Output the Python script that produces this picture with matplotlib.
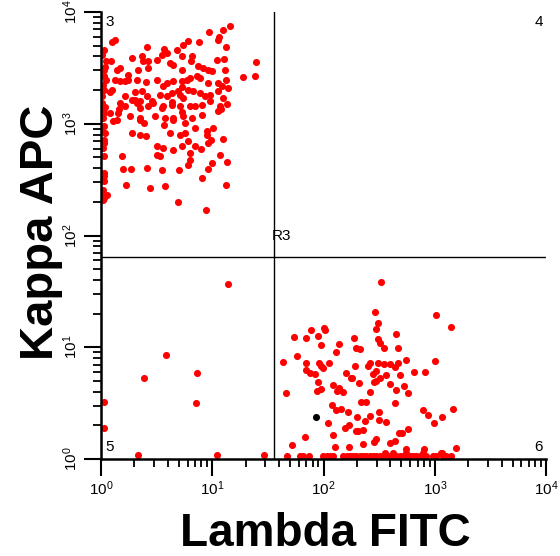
import numpy as np
import matplotlib
matplotlib.use("Agg")
import matplotlib.pyplot as plt
from matplotlib.ticker import LogLocator, LogFormatterSciNotation, NullFormatter

plt.rcParams['font.family'] = ['Liberation Sans', 'DejaVu Sans']
plt.rcParams['mathtext.default'] = 'regular'

# event values in decades (log10 of channel value)
# quadrant 3: kappa positive, lambda negative
q3_events = [
    (1.159, 3.878), (0.973, 3.818), (1.063, 3.776), (1.054, 3.746), (1.099, 3.842),
    (0.126, 3.746), (0.096, 3.728), (0.027, 3.657), (0.410, 3.687), (0.569, 3.672),
    (0.734, 3.707), (0.784, 3.737), (0.880, 3.728), (1.120, 3.687), (1.392, 3.552),
    (1.272, 3.418), (1.383, 3.424), (0.045, 3.558), (0.087, 3.558), (0.027, 3.484),
    (0.171, 3.499), (0.147, 3.484), (0.275, 3.588), (0.365, 3.603), (0.380, 3.558),
    (0.419, 3.558), (0.500, 3.573), (0.545, 3.618), (0.590, 3.633), (0.620, 3.543),
    (0.650, 3.528), (0.725, 3.603), (0.725, 3.484), (0.814, 3.609), (0.805, 3.558),
    (0.874, 3.513), (0.919, 3.499), (0.964, 3.484), (0.994, 3.469), (1.045, 3.567),
    (1.105, 3.579), (1.114, 3.478), (0.045, 3.394), (0.126, 3.394), (0.171, 3.379),
    (0.216, 3.379), (0.246, 3.394), (0.320, 3.394), (0.404, 3.370), (0.500, 3.394),
    (0.560, 3.334), (0.590, 3.364), (0.650, 3.379), (0.725, 3.379), (0.769, 3.394),
    (0.799, 3.409), (0.859, 3.424), (0.889, 3.409), (0.964, 3.364), (1.054, 3.364),
    (1.084, 3.334), (1.123, 3.394), (0.027, 3.304), (0.096, 3.304), (0.216, 3.245),
    (0.275, 3.215), (0.305, 3.215), (0.365, 3.290), (0.410, 3.245), (0.455, 3.200),
    (0.530, 3.260), (0.590, 3.245), (0.635, 3.275), (0.695, 3.290), (0.740, 3.230),
    (0.784, 3.304), (0.829, 3.290), (0.889, 3.275), (0.934, 3.245), (0.979, 3.260),
    (1.054, 3.290), (1.099, 3.230), (1.144, 3.319), (0.006, 3.185), (0.171, 3.185),
    (0.216, 3.155), (0.320, 3.185), (0.350, 3.140), (0.425, 3.155), (0.470, 3.185),
    (0.560, 3.155), (0.635, 3.170), (0.710, 3.155), (0.799, 3.155), (0.844, 3.155),
    (0.904, 3.170), (0.979, 3.200), (1.069, 3.155), (1.129, 3.179), (0.027, 3.096),
    (0.081, 3.096), (0.165, 3.131), (0.260, 3.066), (0.350, 3.051), (0.485, 3.066),
    (0.575, 3.051), (0.650, 3.051), (0.740, 3.066), (0.814, 3.051), (0.904, 3.081),
    (1.054, 3.110), (1.075, 3.131), (0.111, 3.021), (0.141, 3.030), (0.350, 3.030),
    (0.386, 3.006), (0.566, 2.991), (0.650, 3.036), (0.754, 3.006), (0.844, 2.961),
    (0.949, 2.931), (1.009, 2.961), (0.027, 2.976), (0.036, 2.916), (0.027, 2.857),
    (0.275, 2.916), (0.350, 2.901), (0.404, 2.887), (0.620, 2.916), (0.710, 2.901),
    (0.754, 2.916), (0.949, 2.901), (0.985, 2.857), (1.099, 2.863), (0.500, 2.803),
    (0.560, 2.782), (0.725, 2.803), (0.784, 2.842), (0.844, 2.803), (0.895, 2.773),
    (0.964, 2.827), (0.500, 2.722), (0.530, 2.707), (0.650, 2.767), (0.027, 2.707),
    (0.186, 2.707), (0.799, 2.737), (1.069, 2.722), (0.195, 2.594), (0.266, 2.594),
    (0.410, 2.603), (0.545, 2.588), (0.704, 2.582), (0.784, 2.633), (0.799, 2.678),
    (0.994, 2.648), (0.964, 2.594), (1.129, 2.654), (0.027, 2.558), (0.027, 2.484),
    (0.225, 2.454), (0.440, 2.424), (0.575, 2.439), (0.904, 2.513), (1.120, 2.454),
    (0.021, 2.409), (0.051, 2.364), (0.021, 2.319), (0.695, 2.304), (0.943, 2.224),
    (0.012, 3.618), (0.030, 3.424), (0.018, 3.349), (0.012, 3.245), (0.030, 3.140),
    (0.018, 3.051), (0.012, 2.931), (0.024, 2.827), (0.015, 2.782), (0.030, 2.528),
    (0.012, 2.379), (0.024, 2.334), (0.680, 3.660), (0.425, 3.496), (0.335, 3.481),
    (0.246, 3.436), (0.036, 3.511), (0.725, 3.332), (0.081, 3.287), (0.306, 3.287),
    (0.710, 3.257), (0.351, 3.204), (0.635, 3.197), (0.036, 3.153), (0.545, 3.144),
    (0.725, 3.108), (0.156, 3.099),
]

# quadrant 5: double negative
q5_events = [
    (1.139, 1.566), (0.581, 0.931), (0.387, 0.725), (0.866, 0.770), (0.857, 0.498),
    (0.024, 0.510), (0.024, 0.277), (0.330, 0.033), (1.046, 0.033), (1.468, 0.033),
]

# quadrant 6: lambda positive, kappa negative
q6_events = [
    (2.515, 1.588), (2.467, 1.316), (3.009, 1.293), (3.144, 1.185), (2.494, 1.221),
    (2.476, 1.167), (2.000, 1.176), (2.012, 1.152), (1.892, 1.152), (1.847, 1.081),
    (1.734, 1.096), (1.952, 1.101), (1.982, 1.021), (2.138, 1.033), (2.111, 0.958),
    (2.275, 1.081), (2.296, 0.997), (2.326, 0.988), (2.491, 1.072), (2.506, 1.042),
    (2.542, 0.991), (2.656, 1.122), (2.674, 0.997), (1.766, 0.922), (1.632, 0.869),
    (1.841, 0.860), (1.847, 0.794), (1.883, 0.773), (1.922, 0.764), (1.964, 0.857),
    (1.994, 0.818), (2.045, 0.860), (1.982, 0.830), (2.281, 0.833), (2.204, 0.773),
    (2.249, 0.728), (2.404, 0.836), (2.422, 0.857), (2.494, 0.857), (2.542, 0.854),
    (2.446, 0.758), (2.476, 0.788), (2.506, 0.728), (2.566, 0.749), (2.596, 0.851),
    (2.641, 0.827), (2.671, 0.857), (2.692, 0.752), (2.740, 0.884), (2.811, 0.779),
    (2.910, 0.776), (3.003, 0.878), (1.659, 0.588), (1.952, 0.690), (1.976, 0.624),
    (1.943, 0.609), (2.087, 0.666), (2.117, 0.609), (2.135, 0.636), (2.177, 0.603),
    (2.260, 0.728), (2.317, 0.684), (2.422, 0.600), (2.476, 0.696), (2.452, 0.690),
    (2.596, 0.675), (2.656, 0.618), (2.722, 0.654), (2.757, 0.588), (2.338, 0.513),
    (2.386, 0.507), (2.075, 0.487), (2.111, 0.436), (2.153, 0.451), (2.222, 0.421),
    (2.299, 0.376), (2.371, 0.337), (2.422, 0.385), (2.503, 0.421), (2.500, 0.346),
    (2.560, 0.334), (2.641, 0.501), (2.898, 0.442), (2.940, 0.391), (2.991, 0.319),
    (3.066, 0.373), (3.162, 0.448), (2.039, 0.322), (2.195, 0.278), (2.225, 0.307),
    (2.290, 0.251), (2.356, 0.257), (2.314, 0.251), (2.081, 0.212), (1.832, 0.200),
    (2.476, 0.176), (2.458, 0.155), (2.596, 0.146), (2.641, 0.161), (2.680, 0.236),
    (2.704, 0.230), (2.760, 0.266), (1.716, 0.128), (2.102, 0.104), (2.231, 0.104),
    (2.740, 0.087), (2.901, 0.093), (3.057, 0.057), (3.195, 0.099), (2.356, 0.131),
    (2.550, 0.057), (2.626, 0.057), (2.746, 0.057), (2.895, 0.057), (3.066, 0.057),
]
# events piled up on the kappa floor
q6_floor_lambda = [
    1.674, 1.787, 1.817, 1.871, 1.997, 2.027, 2.057, 2.087, 2.177, 2.207,
    2.237, 2.266, 2.296, 2.326, 2.356, 2.386, 2.416, 2.446, 2.476, 2.506,
    2.536, 2.566, 2.596, 2.626, 2.656, 2.686, 2.716, 2.746, 2.775, 2.805,
    2.835, 2.865, 2.895, 2.925, 2.985, 3.015, 3.075, 3.105, 3.150,
]
floor_kappa = 0.03

# single gated (black) event
black_event = (1.930, 0.380)

# quadrant markers
lambda_cut = 35.9
kappa_cut = 64.0

q3 = np.array(q3_events).T
q5 = np.array(q5_events).T
q6 = np.array(q6_events).T
floor_x = np.array(q6_floor_lambda)

fig = plt.figure(figsize=(5.6, 5.56), dpi=100)
ax = fig.add_axes([101 / 560, 1 - 459 / 556, 445 / 560, 447 / 556])

dot = 26
ax.scatter(10 ** q3[0], 10 ** q3[1], s=dot, c='#ff0000', lw=0)
ax.scatter(10 ** q5[0], 10 ** q5[1], s=dot, c='#ff0000', lw=0)
ax.scatter(10 ** q6[0], 10 ** q6[1], s=dot, c='#ff0000', lw=0)
ax.scatter(10 ** floor_x, np.full(len(floor_x), 10 ** floor_kappa), s=dot, c='#ff0000', lw=0)
ax.scatter([10 ** black_event[0]], [10 ** black_event[1]], s=dot, c='black', lw=0)

ax.set_xscale('log')
ax.set_yscale('log')
ax.set_xlim(1, 1e4)
ax.set_ylim(1, 1e4)

ax.axvline(lambda_cut, color='black', lw=1)
ax.axhline(kappa_cut, color='black', lw=1)

for side in ['top', 'right']:
    ax.spines[side].set_visible(False)
for side in ['left', 'bottom']:
    ax.spines[side].set_linewidth(1.8)

for axis in [ax.xaxis, ax.yaxis]:
    axis.set_major_locator(LogLocator(base=10, numticks=10))
    axis.set_minor_locator(LogLocator(base=10, subs=np.arange(2, 10), numticks=10))
    axis.set_major_formatter(LogFormatterSciNotation())
    axis.set_minor_formatter(NullFormatter())

ax.tick_params(which='major', direction='out', length=12, width=1.5, labelsize=11, pad=3)
ax.tick_params(which='minor', direction='out', length=6, width=1.3)
for lab in ax.get_yticklabels():
    lab.set_rotation(90)
    lab.set_va('center')

# quadrant labels
ax.text(0.009, 0.993, '3', transform=ax.transAxes, ha='left', va='top', fontsize=11)
ax.text(0.993, 0.993, '4', transform=ax.transAxes, ha='right', va='top', fontsize=11)
ax.text(0.009, 0.012, '5', transform=ax.transAxes, ha='left', va='bottom', fontsize=11)
ax.text(0.993, 0.012, '6', transform=ax.transAxes, ha='right', va='bottom', fontsize=11)
ax.text(34.4, 86, 'R3', ha='left', va='bottom', fontsize=11)

fig.text(325 / 560, 1 - 546 / 556, 'Lambda FITC', ha='center', va='baseline',
         rotation_mode='anchor', fontsize=33, fontweight='bold')
fig.text(53 / 560, 1 - 232 / 556, 'Kappa APC', ha='center', va='baseline',
         rotation=90, rotation_mode='anchor', fontsize=34, fontweight='bold')

fig.savefig('out.png', dpi=100)
